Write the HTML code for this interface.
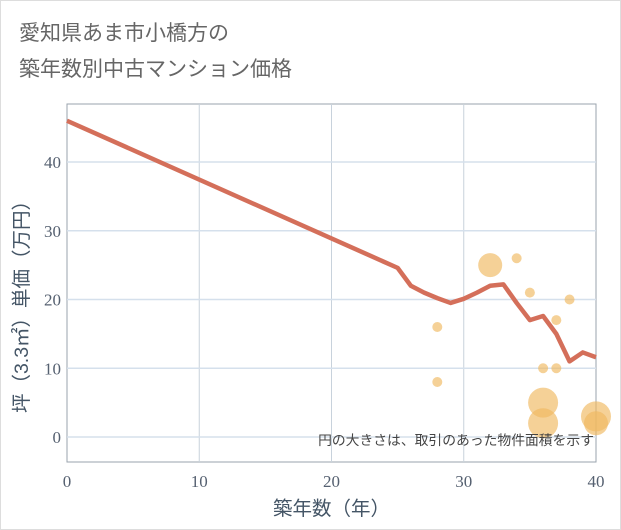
<!DOCTYPE html>
<html><head><meta charset="utf-8"><style>
body{margin:0;background:#fff;}
#wrap{position:relative;width:619px;height:528px;border:1px solid #ddd;background:#fff;font-family:"Liberation Sans","Noto Sans CJK JP",sans-serif;}
.title{position:absolute;left:18px;font-size:21px;color:#666;}
</style></head><body>
<div id="wrap">
<div class="title" style="top:16px">愛知県あま市小橋方の</div>
<div class="title" style="top:52px">築年数別中古マンション価格</div>
<svg id="svg" width="621" height="530" style="position:absolute;left:-1px;top:-1px"></svg>
</div>
<script>
const xTicks=[0,10,20,30,40];
const yTicks=[0,10,20,30,40];
const lineX=[0,25,26,27,28,29,30,31,32,33,34,35,36,37,38,39,40];
const lineY=[46,24.6,22,21,20.2,19.5,20.1,21,22,22.2,19.5,17,17.6,15,11,12.3,11.6];
const ptX=[28,28,32,34,35,36,37,37,38,36,36,40,40];
const ptY=[16,8,25,26,21,10,10,17,20,5,2,3,2];
const ptR=[5,5,12,5,5,5,5,5,5,15,15,15,12];
const L=67,R=596,T=104,B=462;
const sx=v=>L+(v-0)/(40)*(R-L);
const sy=v=>437-v*6.875;
const svg=document.getElementById('svg');
const NS='http://www.w3.org/2000/svg';
function mk(t,a){const e=document.createElementNS(NS,t);for(const k in a)e.setAttribute(k,a[k]);svg.appendChild(e);return e;}
let bg=mk('rect',{x:L,y:T,width:R-L,height:B-T,fill:'#fff',stroke:'#9aa3ad','stroke-width':1});


xTicks.forEach(v=>{
 if(v>0&&v<40){let g=mk('line',{x1:sx(v),x2:sx(v),y1:T,y2:B,stroke:'#c8d2dc','stroke-width':1});
 
 }
 let t=mk('text',{x:sx(v),y:487,'text-anchor':'middle','font-size':17,fill:'#556070','font-family':'Liberation Serif, serif'});t.textContent=v;
 
 
});
yTicks.forEach(v=>{
 let g=mk('line',{x1:L,x2:R,y1:sy(v),y2:sy(v),stroke:'#d5e0ec','stroke-width':1.5});
 
 
 let t=mk('text',{x:61,y:sy(v)+6,'text-anchor':'end','font-size':17,fill:'#556070','font-family':'Liberation Serif, serif'});t.textContent=v;
 
 
});
let d=lineX.map((x,i)=>(i?'L':'M')+sx(x)+','+sy(lineY[i])).join(' ');
let p=mk('path',{d:d,fill:'none',stroke:'#d46f5a','stroke-width':4.5,'stroke-linejoin':'round'});


ptX.forEach((x,i)=>{
 let c=mk('circle',{cx:sx(x),cy:sy(ptY[i]),r:ptR[i],fill:'#f0b860','fill-opacity':0.65});
 
 
});
let n=mk('text',{x:594,y:445,'text-anchor':'end','font-size':13.8,fill:'#444','font-family':'Liberation Sans, Noto Sans CJK JP, sans-serif'});n.textContent='円の大きさは、取引のあった物件面積を示す';


let xt=mk('text',{x:sx(20),y:515,'text-anchor':'middle','font-size':19.5,fill:'#445566','font-family':'Liberation Sans, Noto Sans CJK JP, sans-serif'});xt.textContent='築年数（年）';


let yt=mk('text',{x:0,y:0,'text-anchor':'middle','font-size':19.5,fill:'#445566',transform:'translate(28,302) rotate(-90)','font-family':'Liberation Sans, Noto Sans CJK JP, sans-serif'});yt.textContent='坪（3.3㎡）単価（万円）';


</script>
</body></html>
